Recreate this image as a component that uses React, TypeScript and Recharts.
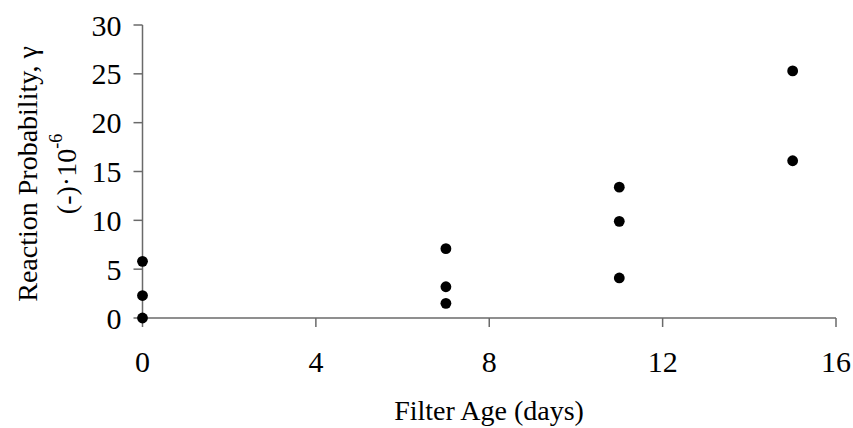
import React from "react";
import { ScatterChart, Scatter, XAxis, YAxis, Label } from "recharts";

const filterAgeDays = [0, 0, 0, 7, 7, 7, 11, 11, 11, 15, 15];
const reactionProbability = [0, 2.3, 5.8, 1.5, 3.2, 7.1, 4.1, 9.9, 13.4, 16.1, 25.3];
const xTicks = [0, 4, 8, 12, 16];
const yTicks = [0, 5, 10, 15, 20, 25, 30];

const points = filterAgeDays.map((x, i) => ({ x, y: reactionProbability[i] }));

const FONT = '"Liberation Serif", "Times New Roman", serif';
const FS = 28;
const TICK_FS = 30;
const AXIS = "#6a6a6a";

const YLabel = () => {
  const cy = 174;
  return (
    <g fontFamily={FONT} fontSize={FS} fill="#000">
      <text x={27} y={cy} dy="0.35em" transform={`rotate(-90 27 ${cy})`} textAnchor="middle">
        Reaction Probability, γ
      </text>
      <text x={66} y={cy} dy="0.35em" transform={`rotate(-90 66 ${cy})`} textAnchor="middle">
        (-)·10<tspan fontSize={18} dy="-0.75em">-6</tspan>
      </text>
    </g>
  );
};

const XLabel = () => (
  <text x={489} y={420} textAnchor="middle" fontFamily={FONT} fontSize={FS} fill="#000">
    Filter Age (days)
  </text>
);

export default function App() {
  return (
    <div style={{ position: "absolute", left: 0, top: 0, background: "#fff" }}>
      <ScatterChart width={853} height={428} margin={{ top: 25, right: 17, left: 0, bottom: 0 }}>
        <XAxis
          type="number"
          dataKey="x"
          domain={[0, 16]}
          ticks={xTicks}
          interval={0}
          height={110}
          stroke={AXIS}
          strokeWidth={1.5}
          tickSize={9}
          tickMargin={24}
          tick={{ fill: "#000", fontFamily: FONT, fontSize: TICK_FS }}
        >
          <Label content={XLabel} />
        </XAxis>
        <YAxis
          type="number"
          dataKey="y"
          domain={[0, 30]}
          ticks={yTicks}
          interval={0}
          width={142.5}
          stroke={AXIS}
          strokeWidth={1.5}
          tickSize={9}
          tickMargin={12}
          tick={{ fill: "#000", fontFamily: FONT, fontSize: TICK_FS }}
        >
          <Label content={YLabel} />
        </YAxis>
        <Scatter
          data={points}
          fill="#000"
          isAnimationActive={false}
          shape={(p: any) => <circle cx={p.cx} cy={p.cy} r={5.4} fill="#000" />}
        />
      </ScatterChart>
    </div>
  );
}
